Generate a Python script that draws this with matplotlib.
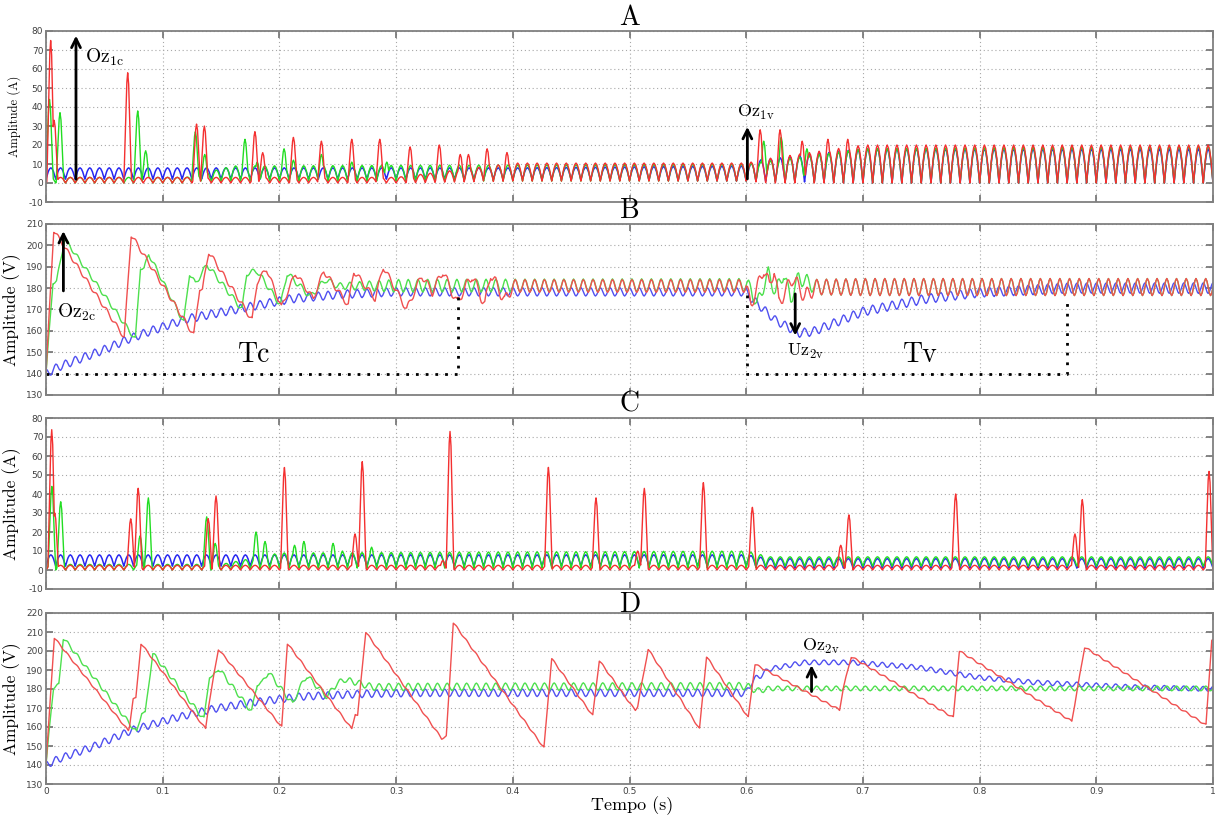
import numpy as np
import matplotlib
matplotlib.use('Agg')
import matplotlib.pyplot as plt

plt.rcParams['mathtext.fontset'] = 'cm'
plt.rcParams['axes.unicode_minus'] = False

# ripple of the rectifier, 120 Hz, one cycle
RIPPLE_HZ = 120
rect_cycle = [0.0, 0.38, 0.71, 0.92, 1.0, 0.92, 0.71, 0.38, 0.0]
sine_cycle = [0.0, 0.71, 1.0, 0.71, 0.0, -0.71, -1.0, -0.71, 0.0]

# ---- panel A, currents (A) ----
a_red_env_t = [0, 0.30, 0.40, 0.60, 0.62, 0.70, 1.0]
a_red_lo = [0, 0, 1, 1, 0, 0, 0]
a_red_hi = [3, 3, 10.5, 10.5, 13, 20, 20]
a_red_spk_t = [0.004, 0.007, 0.070, 0.129, 0.1357, 0.179, 0.1857, 0.212, 0.236, 0.262, 0.286,
               0.312, 0.337, 0.355, 0.362, 0.378, 0.395, 0.612, 0.629, 0.648, 0.670, 0.687]
a_red_spk_h = [75, 33, 58, 31, 30, 27, 16, 24, 22, 23, 23, 19, 20, 15, 15, 18, 16, 28, 28, 22, 23, 23]

a_grn_env_t = [0, 0.12, 0.16, 0.40, 0.60, 0.70, 1.0]
a_grn_lo = [0, 0, 1, 1, 1, 0, 0]
a_grn_hi = [3, 3, 9, 9.5, 10, 18, 19.5]
a_grn_spk_t = [0.003, 0.012, 0.0786, 0.0854, 0.128, 0.136, 0.1705, 0.181, 0.204, 0.212, 0.236,
               0.262, 0.292, 0.615, 0.630, 0.652]
a_grn_spk_h = [44, 37, 38, 17, 27, 15, 23, 11, 18, 12, 15, 11, 11, 22, 24, 18]

a_blu_env_t = [0, 0.40, 0.60, 0.61, 0.70, 1.0]
a_blu_lo = [2, 2, 1, 1, 0, 0]
a_blu_hi = [8, 8, 9, 12, 18, 18]

# ---- panel B, voltages (V) ----
b_red_t = [0, 0.0066, 0.015, 0.067, 0.073, 0.1266, 0.1317, 0.134, 0.1394, 0.1766, 0.181, 0.189,
           0.2017, 0.2137, 0.229, 0.238, 0.259, 0.2637, 0.282, 0.289, 0.309, 0.322, 0.331, 0.340,
           0.352, 0.365, 0.376, 0.381, 0.393, 0.40, 0.60, 0.604, 0.615, 0.62, 0.624, 0.628,
           0.64, 0.65, 0.66, 1.0]
b_red_v = [140, 207, 200, 157, 205, 158, 180, 179, 197, 165, 183, 189, 171, 187, 175, 188, 172,
           188, 175, 190, 170, 186, 178, 188, 173, 186, 172, 187, 174, 181, 181, 172, 189, 181,
           189, 173, 185, 176, 180.5, 180.5]
b_red_amp_t = [0, 0.3, 0.4, 0.6, 0.7, 1.0]
b_red_amp = [1, 1.5, 3, 3, 4, 4]

b_grn_t = [0, 0.006, 0.009, 0.016, 0.0766, 0.081, 0.084, 0.088, 0.118, 0.123, 0.128, 0.138,
           0.168, 0.172, 0.181, 0.201, 0.2066, 0.2266, 0.2394, 0.25, 0.6, 0.604, 0.609, 0.619,
           0.625, 0.632, 0.638, 0.645, 0.66, 1.0]
b_grn_v = [140, 183, 183, 203, 156, 190, 189, 196, 164, 187, 182, 191, 170, 187, 188, 172, 187,
           176, 184, 181, 181.5, 180, 172, 187, 178, 187, 175, 185, 180.5, 180.5]
b_grn_amp_t = [0, 0.25, 0.3, 0.6, 0.7, 1.0]
b_grn_amp = [1, 1.5, 3, 3, 4, 4]

b_blu_t = [0, 0.01, 0.049, 0.07, 0.09, 0.12, 0.17, 0.21, 0.25, 0.3, 0.6, 0.603, 0.615, 0.625,
           0.645, 0.657, 0.7, 0.754, 0.8, 0.875, 1.0]
b_blu_v = [140, 143, 151, 156, 160, 165.5, 170.8, 175, 177, 178.3, 178.3, 176, 170, 165, 159,
           159.6, 169, 175, 178, 180, 180]
b_blu_amp_t = [0, 0.6, 1.0]
b_blu_amp = [2, 2, 2.5]

# dotted settling-time marks in B
tc_t = [0.0, 0.353, 0.353]
tc_v = [140, 140, 177]
tv_t = [0.6004, 0.6004, 0.8746, 0.8746]
tv_v = [177, 140, 140, 176]

# ---- panel C, currents (A) ----
c_red_env_t = [0, 1.0]
c_red_lo = [0, 0]
c_red_hi = [2.5, 2.5]
c_red_spk_t = [0.0049, 0.0075, 0.0726, 0.079, 0.139, 0.1457, 0.2043, 0.2648, 0.271, 0.340, 0.3462,
               0.4305, 0.4713, 0.507, 0.5127, 0.5633, 0.6053, 0.681, 0.688, 0.7795, 0.8817, 0.888,
               0.9966]
c_red_spk_h = [74, 30, 27, 43, 27, 39, 54, 19, 57, 5, 73, 54, 38, 10, 43, 46, 33, 13, 29, 40, 19,
               37, 52]

c_grn_env_t = [0, 0.15, 0.20, 0.60, 0.62, 1.0]
c_grn_lo = [0, 0, 1, 1, 2, 2]
c_grn_hi = [3, 3, 9, 10, 7, 7]
c_grn_spk_t = [0.005, 0.0126, 0.0806, 0.0877, 0.1377, 0.145, 0.180, 0.1877, 0.213, 0.221, 0.246,
               0.254, 0.279]
c_grn_spk_h = [44, 36, 18, 38, 28, 14, 20, 15, 13, 15, 14, 10, 12]

c_blu_env_t = [0, 0.6, 0.62, 1.0]
c_blu_lo = [2, 2, 1, 1]
c_blu_hi = [8, 8, 6, 6]

# ---- panel D, voltages (V) ----
d_red_t = [0, 0.0071, 0.0706, 0.0715, 0.0746, 0.077, 0.0814, 0.1368, 0.139, 0.1477, 0.202,
           0.2068, 0.262, 0.265, 0.267, 0.274, 0.339, 0.343, 0.349, 0.4267, 0.4333, 0.4685,
           0.4741, 0.5033, 0.505, 0.507, 0.516, 0.56, 0.566, 0.6018, 0.6075, 0.68, 0.683, 0.69,
           0.7775, 0.7826, 0.879, 0.890, 0.994, 0.9989, 1.0]
d_red_v = [140, 207, 158, 160, 175, 175, 204, 159, 170, 201, 160, 204, 159, 167, 166, 210, 154,
           155, 215, 149, 196, 166, 195, 170, 169, 171, 201, 159, 197, 165, 193, 169, 180, 197,
           165, 200, 163, 202, 161, 206, 206]
d_red_amp_t = [0, 1.0]
d_red_amp = [0.5, 0.5]

d_grn_t = [0, 0.0063, 0.011, 0.0148, 0.0777, 0.082, 0.085, 0.0914, 0.1354, 0.140, 0.143, 0.1477,
           0.1762, 0.181, 0.185, 0.1905, 0.2114, 0.216, 0.2234, 0.2406, 0.2494, 0.2563, 0.28,
           0.6, 0.61, 0.62, 1.0]
d_grn_v = [140, 181, 182, 207, 157, 168, 167, 198.8, 164, 187, 186, 191, 168, 183, 183, 189, 172,
           179, 187, 176, 183, 185, 181, 181.5, 179, 180.3, 180.3]
d_grn_amp_t = [0, 0.25, 0.3, 0.6, 0.62, 1.0]
d_grn_amp = [1, 1.5, 2, 2, 1.3, 1.3]

d_blu_t = [0, 0.01, 0.0377, 0.0746, 0.109, 0.143, 0.178, 0.218, 0.275, 0.32, 0.6, 0.605, 0.62,
           0.65, 0.69, 0.746, 0.8, 0.846, 0.903, 0.931, 1.0]
d_blu_v = [140, 143, 149, 158.5, 164.5, 169.5, 173, 176, 177.5, 178, 178, 184, 190.5, 194, 194,
           191.5, 186, 183.5, 181.8, 181, 180]
d_blu_amp_t = [0, 0.6, 0.62, 1.0]
d_blu_amp = [2, 2, 1.3, 1.3]

# ---- build traces ----
t = np.linspace(0, 1, 24001)
phase = (t * RIPPLE_HZ) % 1.0
cyc_x = np.linspace(0, 1, len(rect_cycle))


def current(env_t, lo, hi, spk_t=(), spk_h=(), shift=0.0):
    low = np.interp(t, env_t, lo)
    high = np.interp(t, env_t, hi)
    y = low + (high - low) * np.interp((phase + shift) % 1, cyc_x, rect_cycle)
    for tc, h in zip(spk_t, spk_h):
        d = np.abs(t - tc) / 0.0033
        y = np.maximum(y, h * np.interp(d, [0, 0.25, 0.6, 1], [1, 0.9, 0.45, 0]))
    return y


def voltage(pts_t, pts_v, amp_t, amp, shift=0.0):
    return (np.interp(t, pts_t, pts_v)
            + np.interp(t, amp_t, amp) * np.interp((phase + shift) % 1, cyc_x, sine_cycle))


RED, GRN, BLU = '#f43030', '#22dd22', '#2828f0'
RED2, GRN2, BLU2 = '#f05050', '#4ee04e', '#5050f0'
SERIF = 'cmr10'

fig = plt.figure(figsize=(12.15, 8.18), dpi=100)
L, W, H = 46 / 1215, 1167 / 1215, 171 / 818
bottoms = [1 - 202 / 818, 1 - 395 / 818, 1 - 589 / 818, 1 - 784 / 818]
axs = [fig.add_axes([L, b, W, H]) for b in bottoms]
axA, axB, axC, axD = axs

# A
axA.plot(t, current(a_blu_env_t, a_blu_lo, a_blu_hi), color=BLU, lw=1.1)
axA.plot(t, current(a_grn_env_t, a_grn_lo, a_grn_hi, a_grn_spk_t, a_grn_spk_h), color=GRN, lw=1.0)
axA.plot(t, current(a_red_env_t, a_red_lo, a_red_hi, a_red_spk_t, a_red_spk_h), color=RED, lw=1.0)

# B
axB.plot(t, voltage(b_blu_t, b_blu_v, b_blu_amp_t, b_blu_amp, 0.25), color=BLU2, lw=1.0)
axB.plot(t, voltage(b_grn_t, b_grn_v, b_grn_amp_t, b_grn_amp), color=GRN2, lw=1.0)
axB.plot(t, voltage(b_red_t, b_red_v, b_red_amp_t, b_red_amp), color=RED2, lw=1.0)
axB.plot(tc_t, tc_v, color='black', lw=2, linestyle=(0, (1, 2.5)))
axB.plot(tv_t, tv_v, color='black', lw=2, linestyle=(0, (1, 2.5)))

# C
axC.plot(t, current(c_blu_env_t, c_blu_lo, c_blu_hi), color=BLU, lw=1.1)
axC.plot(t, current(c_grn_env_t, c_grn_lo, c_grn_hi, c_grn_spk_t, c_grn_spk_h), color=GRN, lw=1.0)
axC.plot(t, current(c_red_env_t, c_red_lo, c_red_hi, c_red_spk_t, c_red_spk_h), color=RED, lw=1.0)

# D
axD.plot(t, voltage(d_blu_t, d_blu_v, d_blu_amp_t, d_blu_amp, 0.25), color=BLU2, lw=1.0)
axD.plot(t, voltage(d_grn_t, d_grn_v, d_grn_amp_t, d_grn_amp), color=GRN2, lw=1.0)
axD.plot(t, voltage(d_red_t, d_red_v, d_red_amp_t, d_red_amp), color=RED2, lw=1.0)

ylims = [(-10, 80), (130, 210), (-10, 80), (130, 220)]
titles = ['A', 'B', 'C', 'D']
ylabels = ['Amplitude (A)', 'Amplitude (V)', 'Amplitude (A)', 'Amplitude (V)']
ylab_size = [9, 12.5, 12.5, 12.5]
for i, ax in enumerate(axs):
    ax.set_xlim(0, 1)
    ax.set_ylim(*ylims[i])
    ax.set_xticks(np.arange(0, 1.01, 0.1))
    ax.set_yticks(np.arange(ylims[i][0], ylims[i][1] + 1, 10))
    ax.grid(True, linestyle=(0, (1, 2.5)), color='#a8a8a8', lw=0.8)
    ax.tick_params(direction='in', top=True, right=True, length=5, width=1.2,
                   color='#707070', labelcolor='#404040', labelsize=6.5, pad=2)
    for sp in ax.spines.values():
        sp.set_color('#808080')
        sp.set_linewidth(1.3)
    ax.set_title(titles[i], family=SERIF, fontsize=20, pad=1)
    ax.set_ylabel(ylabels[i], family=SERIF, fontsize=ylab_size[i])
    ax.yaxis.set_label_coords(-0.0215, 0.5)
    if i < 3:
        ax.tick_params(labelbottom=False)

axD.set_xticklabels(['0', '0.1', '0.2', '0.3', '0.4', '0.5', '0.6', '0.7', '0.8', '0.9', '1'])
axD.set_xlabel('Tempo (s)', family=SERIF, fontsize=13)
axD.xaxis.set_label_coords(0.502, -0.07)

# arrows and labels
arrow = dict(arrowstyle='->', lw=2, color='black', mutation_scale=16)
axA.annotate('', xy=(0.0257, 79), xytext=(0.0257, 0.5), arrowprops=arrow)
axA.text(0.033, 66, r'$\mathrm{Oz}_{\mathrm{1c}}$', fontsize=14, va='center', ha='left')
axA.annotate('', xy=(0.601, 31), xytext=(0.601, 0.7), arrowprops=arrow)
axA.text(0.592, 37, r'$\mathrm{Oz}_{\mathrm{1v}}$', fontsize=13, va='center', ha='left')

axB.annotate('', xy=(0.0149, 208), xytext=(0.0149, 177.4), arrowprops=arrow)
axB.text(0.0094, 168.6, r'$\mathrm{Oz}_{\mathrm{2c}}$', fontsize=14, va='center', ha='left')
axB.annotate('', xy=(0.642, 156.5), xytext=(0.642, 178.6), arrowprops=arrow)
axB.text(0.635, 150.4, r'$\mathrm{Uz}_{\mathrm{2v}}$', fontsize=13, va='center', ha='left')
axB.text(0.178, 148.8, 'Tc', family=SERIF, fontsize=20, va='center', ha='center')
axB.text(0.749, 148.8, 'Tv', family=SERIF, fontsize=20, va='center', ha='center')

axD.annotate('', xy=(0.656, 194), xytext=(0.656, 177.2), arrowprops=arrow)
axD.text(0.6475, 202.3, r'$\mathrm{Oz}_{\mathrm{2v}}$', fontsize=13, va='center', ha='left')

fig.savefig('out.png', dpi=100)
